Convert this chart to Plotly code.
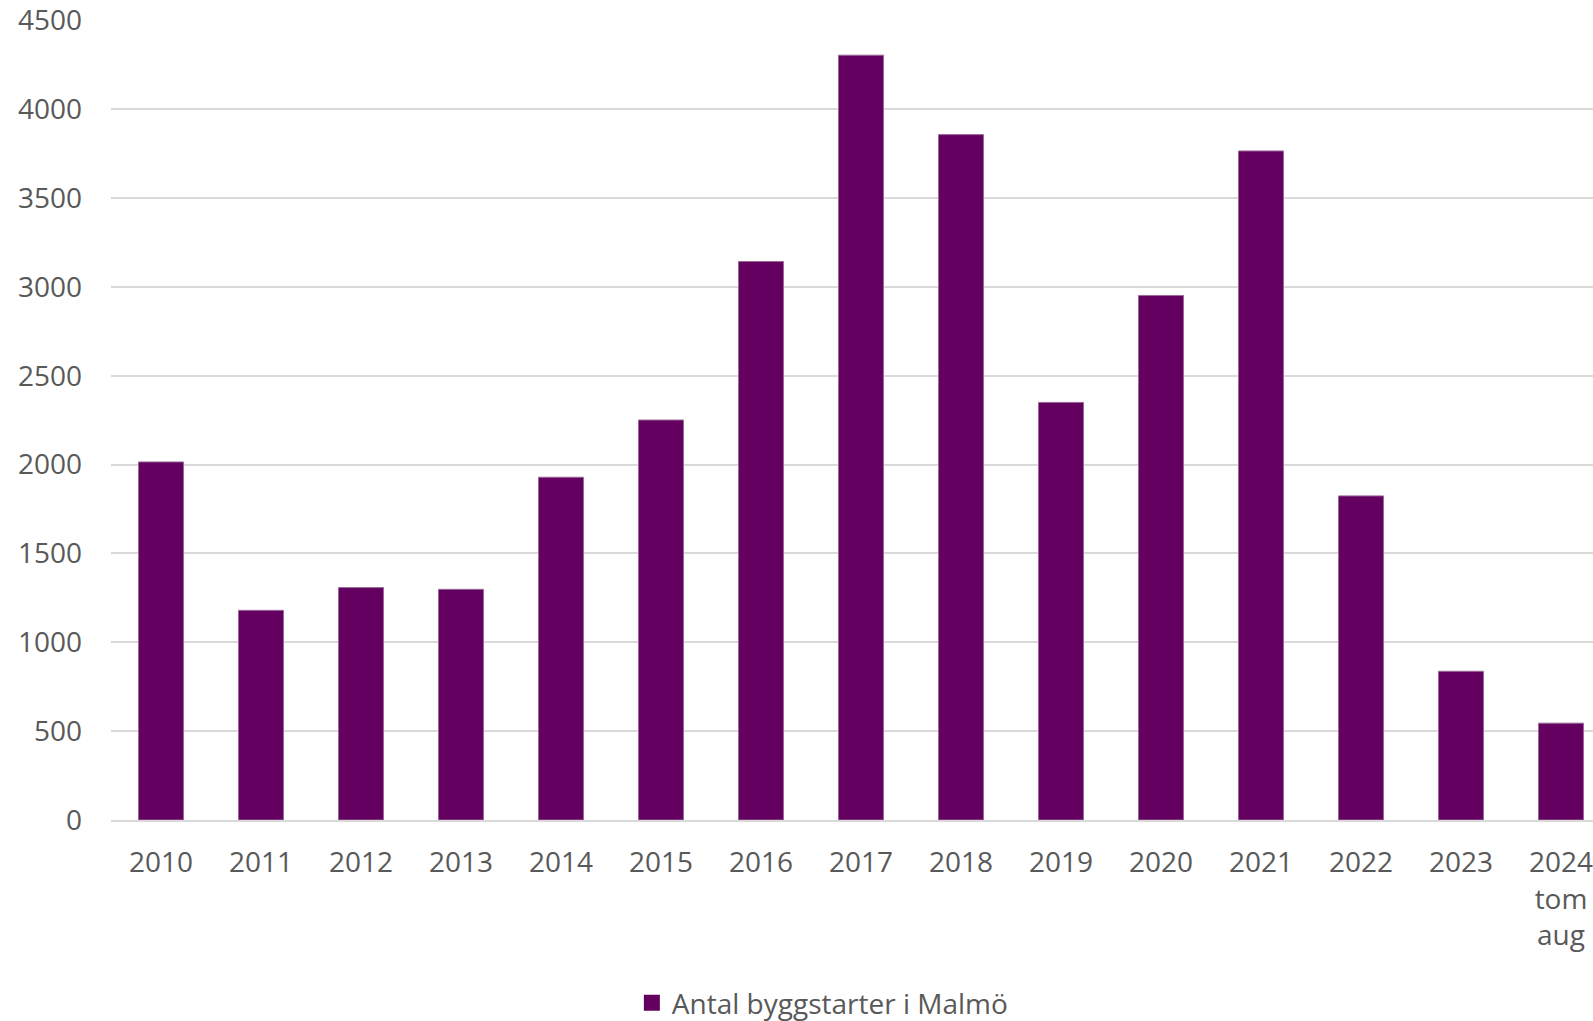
import plotly.graph_objects as go

categories = ["2010", "2011", "2012", "2013", "2014", "2015", "2016", "2017",
              "2018", "2019", "2020", "2021", "2022", "2023", "2024<br>tom<br>aug"]
values = [2015, 1180, 1308, 1298, 1929, 2251, 3143, 4304, 3857, 2350, 2952, 3765, 1824, 837, 545]
series_name = "Antal byggstarter i Malmö"
y_ticks = [0, 500, 1000, 1500, 2000, 2500, 3000, 3500, 4000, 4500]

FONT = "Open Sans"
TXT = "#595959"
GRID = "#d9d9d9"
BAR = "#640060"

fig = go.Figure()
fig.add_trace(go.Bar(
    x=categories, y=values, name=series_name,
    marker=dict(color=BAR, line=dict(color="#9a6a98", width=1)),
    showlegend=False,
))
# legend entry with a larger square symbol
fig.add_trace(go.Scatter(
    x=[None], y=[None], mode="markers", name=series_name,
    marker=dict(symbol="square", size=18, color=BAR),
    showlegend=True,
))

fig.update_layout(
    width=1593, height=1021,
    margin=dict(l=111, r=0, t=19.5, b=200.7, autoexpand=False),
    paper_bgcolor="white", plot_bgcolor="white",
    bargap=0.55,
    font=dict(family=FONT, size=28, color=TXT),
    showlegend=True,
    legend=dict(orientation="h", x=0.48, xanchor="center",
                yref="container", y=1 - 1003 / 1021, yanchor="middle",
                font=dict(family=FONT, size=28, color=TXT), itemwidth=30),
    xaxis=dict(type="category", range=[-0.5, 14.32], showgrid=False,
               showline=True, linecolor=GRID, linewidth=1.5, ticks="",
               tickfont=dict(family=FONT, size=28, color=TXT),
               ticklabelstandoff=17),
    yaxis=dict(range=[0, 4502], tickvals=y_ticks, showgrid=True, gridcolor=GRID,
               gridwidth=1.5, zeroline=False, showline=False, ticks="",
               tickfont=dict(family=FONT, size=28, color=TXT),
               ticklabelstandoff=28),
)

fig.write_html("out.html", config={"displayModeBar": False},
               post_script="document.body.style.margin='0';")
